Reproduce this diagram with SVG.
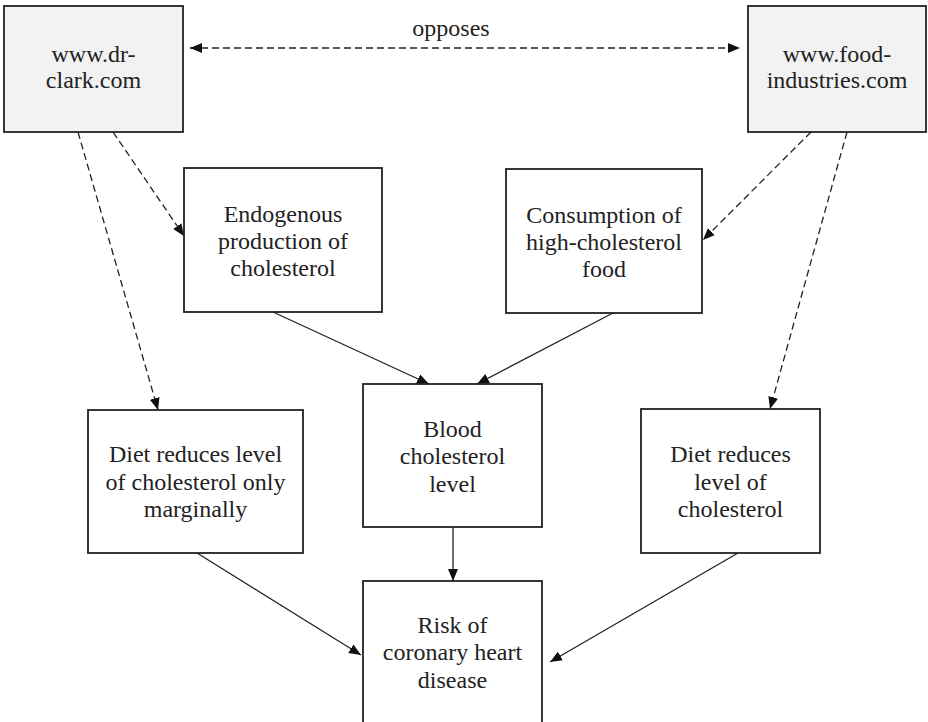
<svg xmlns="http://www.w3.org/2000/svg" width="928" height="722" viewBox="0 0 928 722">
<defs>
<style>
.box{fill:#fff;stroke:#222;stroke-width:1.8}
.site{fill:#f2f2f2;stroke:#222;stroke-width:1.8}
text{font-family:"Liberation Serif","Times New Roman",serif;font-size:24px;fill:#222;text-anchor:middle}
.dash{stroke:#222;stroke-width:1.3;fill:none;stroke-dasharray:7,4}
.solid{stroke:#222;stroke-width:1.3;fill:none}
</style>
<marker id="ah" markerUnits="userSpaceOnUse" markerWidth="14" markerHeight="12" refX="12" refY="5" orient="auto-start-reverse">
<path d="M0,0 L12,5 L0,10 z" fill="#111"/>
</marker>
</defs>
<rect width="928" height="722" fill="#fff"/>
<g id="connectors">
<line class="dash" x1="190" y1="48" x2="740" y2="48" marker-start="url(#ah)" marker-end="url(#ah)"/>
<line class="dash" x1="113" y1="132" x2="184" y2="236" marker-end="url(#ah)"/>
<line class="dash" x1="78" y1="132" x2="158" y2="410" marker-end="url(#ah)"/>
<line class="dash" x1="811" y1="132" x2="703" y2="240" marker-end="url(#ah)"/>
<line class="dash" x1="847" y1="132" x2="770" y2="409" marker-end="url(#ah)"/>
<line class="solid" x1="273" y1="312" x2="429" y2="384" marker-end="url(#ah)"/>
<line class="solid" x1="613" y1="313" x2="477" y2="384" marker-end="url(#ah)"/>
<line class="solid" x1="453" y1="527" x2="453" y2="581" marker-end="url(#ah)"/>
<line class="solid" x1="197" y1="553" x2="361" y2="655" marker-end="url(#ah)"/>
<line class="solid" x1="738" y1="553" x2="550" y2="662" marker-end="url(#ah)"/>
<text x="451" y="36">opposes</text>
</g>
<g id="drclark">
<rect class="site" x="4" y="6" width="179" height="126"/>
<text x="93.5" y="62">www.dr-</text>
<text x="93.5" y="88">clark.com</text>
</g>
<g id="food">
<rect class="site" x="748" y="6" width="178" height="126"/>
<text x="837" y="62">www.food-</text>
<text x="837" y="88">industries.com</text>
</g>
<g id="endogenous">
<rect class="box" x="184" y="168" width="198" height="144"/>
<text x="283" y="222">Endogenous</text>
<text x="283" y="249">production of</text>
<text x="283" y="276">cholesterol</text>
</g>
<g id="consumption">
<rect class="box" x="506" y="169" width="196" height="144"/>
<text x="604" y="223">Consumption of</text>
<text x="604" y="250">high-cholesterol</text>
<text x="604" y="277">food</text>
</g>
<g id="blood">
<rect class="box" x="363" y="384" width="179" height="143"/>
<text x="452.5" y="437">Blood</text>
<text x="452.5" y="464">cholesterol</text>
<text x="452.5" y="492">level</text>
</g>
<g id="dietleft">
<rect class="box" x="88" y="410" width="215" height="143"/>
<text x="195.5" y="462">Diet reduces level</text>
<text x="195.5" y="490">of cholesterol only</text>
<text x="195.5" y="517">marginally</text>
</g>
<g id="dietright">
<rect class="box" x="641" y="409" width="179" height="144"/>
<text x="730.5" y="462">Diet reduces</text>
<text x="730.5" y="490">level of</text>
<text x="730.5" y="517">cholesterol</text>
</g>
<g id="risk">
<rect class="box" x="363" y="581" width="179" height="146"/>
<text x="452.5" y="633">Risk of</text>
<text x="452.5" y="660">coronary heart</text>
<text x="452.5" y="688">disease</text>
</g>
</svg>
